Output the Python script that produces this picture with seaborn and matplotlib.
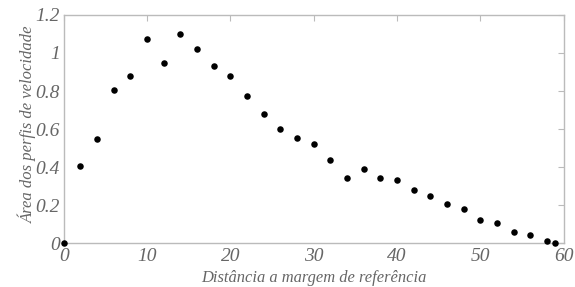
import matplotlib
matplotlib.use("Agg")
import matplotlib.pyplot as plt
import seaborn as sns
import pandas as pd

distancia = [0, 2, 4, 6, 8, 10, 12, 14, 16, 18, 20, 22, 24, 26, 28, 30,
             32, 34, 36, 38, 40, 42, 44, 46, 48, 50, 52, 54, 56, 58, 59]
area = [0.0, 0.407, 0.547, 0.808, 0.877, 1.072, 0.946, 1.102, 1.023, 0.934,
        0.88, 0.772, 0.682, 0.60, 0.554, 0.523, 0.44, 0.342, 0.389, 0.344,
        0.335, 0.282, 0.25, 0.207, 0.182, 0.123, 0.105, 0.061, 0.044, 0.012, 0.0]
xticks = [0, 10, 20, 30, 40, 50, 60]
yticks = [0, 0.2, 0.4, 0.6, 0.8, 1.0, 1.2]
ytick_labels = ["0", "0.2", "0.4", "0.6", "0.8", "1", "1.2"]

df = pd.DataFrame({"x": distancia, "y": area})

sns.set_theme(style="white")
plt.rcParams['font.family'] = ['Liberation Serif', 'DejaVu Serif']

fig = plt.figure(figsize=(5.75, 2.87), dpi=100)
ax = fig.add_axes([0.111, 0.152, 0.869, 0.796])
sns.scatterplot(data=df, x="x", y="y", ax=ax, color="black", s=22,
                edgecolor="black", linewidth=0, clip_on=False, zorder=5)

ax.set_xlim(0, 60)
ax.set_ylim(0, 1.2)
ax.set_xticks(xticks)
ax.set_xticklabels([str(t) for t in xticks])
ax.set_yticks(yticks)
ax.set_yticklabels(ytick_labels)

gray = "#666666"
for sp in ax.spines.values():
    sp.set_color("#bbbbbb")
    sp.set_linewidth(1.0)
ax.tick_params(direction="in", length=4, width=0.8, color="#bbbbbb",
               top=True, right=True, labelsize=14, labelcolor=gray, pad=3)
for lbl in ax.get_xticklabels() + ax.get_yticklabels():
    lbl.set_fontstyle("italic")

ax.set_xlabel("Distância a margem de referência", fontsize=11.9,
              style="italic", color=gray, labelpad=4)
ax.set_ylabel("Área dos perfis de velocidade", fontsize=12,
              style="italic", color=gray)
ax.yaxis.set_label_coords(-0.053, 0.52)
ax.grid(False)

fig.savefig("out.png", dpi=100)
